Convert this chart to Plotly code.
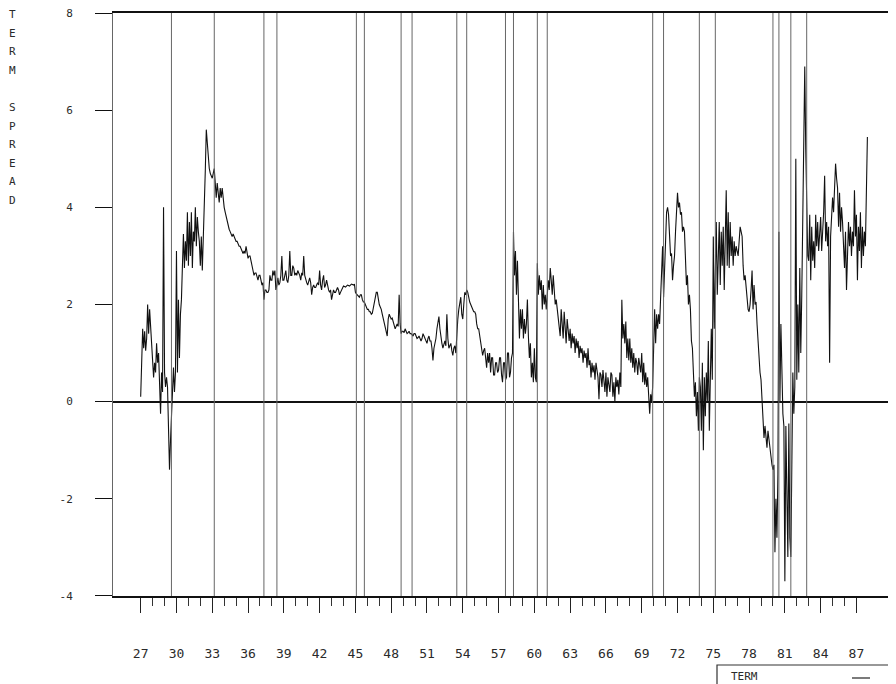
import plotly.graph_objects as go

# ---------------- data ----------------
start_year = 1927.0
obs_per_year = 12  # monthly readings

term_spread = [
    0.1, 0.8, 1.5, 1.1, 1.45, 1.05, 1.3, 2.0, 1.4, 1.9, 1.5, 1.0,          # 1927
    0.9, 0.5, 0.8, 0.6, 1.2, 0.8, 1.0, 0.5, -0.25, 0.6, 0.2, 4.0,          # 1928
    0.6, 0.3, 0.5, 0.3, -0.4, -1.4, -0.8, -0.3, 0.0, 0.7, 0.2, 0.6,        # 1929
    3.1, 0.6, 2.1, 0.9, 1.8, 2.1, 2.8, 3.45, 2.75, 3.3, 2.9, 3.9,          # 1930
    2.8, 3.7, 3.0, 3.9, 2.75, 3.5, 3.3, 4.0, 3.2, 3.8, 3.5, 3.3,           # 1931
    2.8, 3.4, 2.7, 3.6, 4.2, 4.75, 5.6, 5.3, 5.0, 4.8, 4.7, 4.65,          # 1932
    4.6, 4.7, 4.8, 4.5, 4.2, 4.5, 4.3, 4.1, 4.4, 4.2, 4.4, 4.1,            # 1933
    4.0, 3.9, 3.8, 3.7, 3.6, 3.55, 3.5, 3.45, 3.4, 3.45, 3.4, 3.35,        # 1934
    3.3, 3.3, 3.25, 3.2, 3.2, 3.15, 3.1, 3.05, 3.1, 3.05, 3.2, 3.1,        # 1935
    2.95, 3.0, 3.0, 2.9, 2.75, 2.7, 2.6, 2.65, 2.65, 2.55, 2.5, 2.6,       # 1936
    2.6, 2.5, 2.4, 2.45, 2.1, 2.3, 2.3, 2.25, 2.25, 2.3, 2.6, 2.5,         # 1937
    2.5, 2.7, 2.6, 2.7, 2.3, 2.4, 2.55, 2.4, 2.45, 2.6, 3.0, 2.5,          # 1938
    2.5, 2.6, 2.7, 2.5, 2.45, 2.6, 3.1, 2.6, 2.6, 2.8, 2.75, 2.6,          # 1939
    2.65, 2.6, 2.7, 2.65, 2.6, 2.5, 2.65, 2.6, 3.0, 2.6, 2.5, 2.45,        # 1940
    2.4, 2.5, 2.55, 2.45, 2.2, 2.35, 2.4, 2.35, 2.35, 2.4, 2.45, 2.4,      # 1941
    2.7, 2.4, 2.3, 2.5, 2.6, 2.35, 2.4, 2.5, 2.35, 2.3, 2.25, 2.3,         # 1942
    2.1, 2.2, 2.3, 2.25, 2.25, 2.3, 2.35, 2.3, 2.2, 2.25, 2.3, 2.35,       # 1943
    2.38, 2.37, 2.36, 2.38, 2.4, 2.39, 2.38, 2.4, 2.42, 2.41, 2.4, 2.42,   # 1944
    2.25, 2.22, 2.2, 2.18, 2.15, 2.2, 2.2, 2.1, 2.05, 2.05, 2.0, 1.95,     # 1945
    1.9, 1.9, 1.85, 1.85, 1.8, 1.82, 1.95, 2.05, 2.2, 2.25, 2.25, 2.1,     # 1946
    2.0, 1.95, 1.9, 1.8, 1.7, 1.6, 1.55, 1.4, 1.35, 1.7, 1.8, 1.75,        # 1947
    1.7, 1.72, 1.65, 1.6, 1.5, 1.55, 1.6, 1.55, 2.2, 1.6, 1.4, 1.45,       # 1948
    1.45, 1.42, 1.5, 1.45, 1.4, 1.42, 1.45, 1.4, 1.4, 1.38, 1.35, 1.4,     # 1949
    1.4, 1.35, 1.3, 1.32, 1.35, 1.3, 1.25, 1.3, 1.4, 1.35, 1.3, 1.25,      # 1950
    1.2, 1.3, 1.35, 1.25, 1.25, 1.1, 0.85, 1.1, 1.2, 1.3, 1.5, 1.7,        # 1951
    1.75, 1.5, 1.3, 1.2, 1.1, 1.2, 1.25, 1.15, 1.8, 1.3, 1.1, 1.15,        # 1952
    1.2, 1.05, 0.95, 1.1, 1.15, 1.0, 1.5, 1.7, 1.9, 2.0, 2.15, 1.8,        # 1953
    1.7, 2.0, 2.25, 2.2, 2.3, 2.25, 2.1, 2.05, 2.0, 1.95, 1.9, 1.85,       # 1954
    1.85, 1.8, 1.6, 1.5, 1.5, 1.35, 1.2, 1.0, 0.95, 1.05, 1.1, 0.9,        # 1955
    0.7, 1.0, 0.8, 1.0, 0.6, 0.9, 0.9, 0.55, 0.55, 0.8, 0.8, 0.6,          # 1956
    0.65, 0.9, 0.9, 0.55, 0.4, 0.8, 0.8, 0.45, 0.5, 1.0, 1.0, 0.5,         # 1957
    0.6, 0.9, 1.0, 3.5, 2.6, 3.1, 2.2, 2.9, 2.3, 1.3, 1.9, 1.5,            # 1958
    1.9, 1.3, 1.7, 1.4, 1.6, 2.1, 1.35, 0.9, 1.2, 0.5, 0.8, 0.4,           # 1959
    1.1, 0.5, 0.4, 2.85, 2.2, 2.6, 2.3, 2.5, 1.9, 2.4, 2.0, 2.2,           # 1960
    1.9, 2.2, 2.5, 2.3, 2.75, 2.5, 2.2, 2.6, 2.3, 2.0, 2.1, 1.9,           # 1961
    1.8, 1.6, 1.35, 1.9, 1.6, 1.3, 1.85, 1.5, 1.2, 1.7, 1.4, 1.25,         # 1962
    1.5, 1.1, 1.4, 1.2, 1.35, 1.0, 1.3, 1.1, 1.25, 0.9, 1.15, 1.0,         # 1963
    1.1, 0.8, 1.05, 0.9, 1.0, 0.7, 1.1, 0.75, 0.85, 0.5, 0.8, 0.6,         # 1964
    0.75, 0.45, 0.8, 0.6, 0.5, 0.05, 0.6, 0.55, 0.3, 0.65, 0.4, 0.2,       # 1965
    0.6, 0.1, 0.5, 0.35, 0.2, 0.6, 0.55, 0.1, 0.4, 0.0, 0.5, 0.3,          # 1966
    0.45, 0.15, 0.6, 0.3, 2.1, 1.3, 1.6, 1.2, 1.65, 0.9, 1.3, 0.85,        # 1967
    1.3, 0.8, 1.1, 0.7, 1.0, 0.6, 0.9, 0.8, 0.55, 0.9, 0.7, 0.6,           # 1968
    1.0, 0.4, 0.8, 0.35, 0.6, 0.3, 0.5, 0.2, -0.25, 0.15, 0.0, 0.3,        # 1969
    1.0, 1.9, 1.2, 1.8, 1.5, 1.8, 1.6, 2.2, 2.4, 3.2, 2.15, 3.0,           # 1970
    3.3, 3.9, 4.0, 3.85, 3.5, 3.0, 3.05, 2.5, 2.8, 3.0, 3.5, 3.9,          # 1971
    4.3, 4.0, 4.1, 3.85, 3.9, 3.5, 3.6, 3.5, 2.75, 2.4, 2.6, 2.0,          # 1972
    2.2, 1.9, 1.25, 1.1, 0.6, 0.1, 0.4, -0.3, 0.2, -0.6, 0.5, 0.3,         # 1973
    -0.6, 0.8, -1.0, 0.5, -0.3, 0.6, 0.0, 1.25, -0.6, 0.4, 1.5, 0.45,      # 1974
    3.4, 1.5, 2.6, 3.7, 2.2, 3.2, 3.7, 2.4, 3.5, 2.8, 3.6, 2.3,            # 1975
    3.2, 4.35, 2.8, 3.9, 2.75, 3.7, 3.0, 3.4, 2.8, 3.3, 3.0, 3.2,          # 1976
    3.1, 3.0, 3.3, 3.6, 3.5, 3.4, 2.8, 2.5, 2.6, 2.3, 2.1, 1.9,            # 1977
    1.85, 2.0, 2.3, 2.7, 1.9, 2.4, 2.0, 2.05, 1.6, 1.2, 0.9, 0.6,          # 1978
    0.45, 0.0, -0.4, -0.75, -0.5, -0.7, -0.95, -0.6, -0.8, -0.9, -1.2, -1.3,  # 1979
    -1.4, -1.3, -3.1, -2.0, -2.8, -1.5, 3.5, 0.0, 1.6, 0.4, -0.25, -0.5,   # 1980
    -3.7, -0.5, -2.5, -3.2, -0.45, -2.8, -3.2, -1.0, 0.6, -0.25, 0.3, 5.0, # 1981
    0.45, 2.0, 0.6, 2.75, 1.0, 2.2, 4.2, 6.0, 6.9, 5.2, 3.9, 3.0,          # 1982
    2.9, 3.85, 2.5, 3.6, 2.9, 3.3, 2.75, 3.85, 3.2, 3.7, 3.1, 3.5,         # 1983
    3.8, 3.1, 3.5, 3.9, 4.65, 3.3, 3.7, 3.2, 3.6, 0.8, 3.4, 3.9,           # 1984
    4.2, 3.9, 4.5, 4.9, 4.6, 4.4, 3.6, 4.3, 3.5, 4.0, 3.7, 3.0,            # 1985
    2.75, 3.5, 2.3, 3.0, 3.7, 3.2, 3.6, 3.0, 3.5, 3.2, 4.35, 3.4,          # 1986
    3.85, 2.5, 3.6, 3.1, 3.9, 2.75, 3.6, 3.0, 3.5, 3.2, 4.8, 5.45,         # 1987
]

# NBER business-cycle peaks and troughs (decimal years)
cycle_peaks = [1929.58, 1937.33, 1945.08, 1948.83, 1953.5, 1957.58,
               1960.25, 1969.92, 1973.83, 1980.0, 1981.5]
cycle_troughs = [1933.17, 1938.42, 1945.75, 1949.75, 1954.33, 1958.25,
                 1961.08, 1970.83, 1975.17, 1980.5, 1982.83]

x_tick_years = [1927, 1930, 1933, 1936, 1939, 1942, 1945, 1948, 1951, 1954, 1957,
                1960, 1963, 1966, 1969, 1972, 1975, 1978, 1981, 1984, 1987]
x_tick_labels = ["27", "30", "33", "36", "39", "42", "45", "48", "51", "54", "57",
                 "60", "63", "66", "69", "72", "75", "78", "81", "84", "87"]
x_minor_years = [y for y in range(1928, 1987) if y not in x_tick_years]
y_tick_vals = [-4, -2, 0, 2, 4, 6, 8]
y_tick_labels = ["-4", "-2", "0", "2", "4", "6", "8"]

y_title_letters = ["T", "E", "R", "M", "", "S", "P", "R", "E", "A", "D"]
legend_label = "TERM"

# ---------------- figure ----------------
years = [start_year + i / obs_per_year for i in range(len(term_spread))]

FONT = "DejaVu Sans Mono"
INK = "#2a2a2a"

# page geometry (browser pixels); the page body has an 8px margin
PAGE_W, PAGE_H, OFF = 896, 684, 8
L, R, T, B = 113, 892, 13, 596          # plot-area edges on the page
W, H = PAGE_W - OFF, PAGE_H - OFF       # figure size
pw, ph = R - L, B - T


def px_x(p):
    return (p - L) / pw


def px_y(p):
    return (B - p) / ph


fig = go.Figure()
fig.add_trace(go.Scatter(
    x=years, y=term_spread, mode="lines",
    line=dict(color="#111111", width=1.1),
    showlegend=False, hoverinfo="skip",
))

shapes = []
for d in cycle_peaks + cycle_troughs:
    shapes.append(dict(type="line", xref="x", yref="paper", x0=d, x1=d, y0=0, y1=1,
                       line=dict(color="#666666", width=1)))

# right border (light, broken)
shapes.append(dict(type="line", xref="paper", yref="paper", x0=1, x1=1, y0=0, y1=1,
                   line=dict(color="#888888", width=1, dash="dot")))
# legend box (cut at the bottom of the page, as in the reference)
shapes.append(dict(type="rect", xref="paper", yref="paper",
                   x0=px_x(717), x1=px_x(902), y0=px_y(694), y1=px_y(665),
                   line=dict(color="#333333", width=1.2), fillcolor="rgba(0,0,0,0)"))
shapes.append(dict(type="line", xref="paper", yref="paper",
                   x0=px_x(852), x1=px_x(870), y0=px_y(678), y1=px_y(678),
                   line=dict(color="#222222", width=1.2)))

annotations = []
for i, ch in enumerate(y_title_letters):
    if not ch:
        continue
    annotations.append(dict(text=ch, xref="paper", yref="paper",
                            x=px_x(12), y=px_y(15 + i * 18.5),
                            xanchor="center", yanchor="middle", showarrow=False,
                            font=dict(family=FONT, size=11, color=INK)))
annotations.append(dict(text=legend_label, xref="paper", yref="paper",
                        x=px_x(729), y=px_y(676), xanchor="left", yanchor="middle",
                        showarrow=False, font=dict(family=FONT, size=11, color=INK)))

fig.update_layout(
    width=W, height=H,
    margin=dict(l=L - OFF, r=PAGE_W - R, t=T - OFF, b=PAGE_H - B, pad=0,
                autoexpand=False),
    paper_bgcolor="white", plot_bgcolor="white",
    font=dict(family=FONT, size=13, color=INK),
    shapes=shapes, annotations=annotations,
    showlegend=False,
)
fig.update_xaxes(
    range=[1924.68, 1989.98], automargin=False,
    tickmode="array", tickvals=x_tick_years, ticktext=x_tick_labels,
    ticks="outside", ticklen=15, tickwidth=1, tickcolor="#222222",
    ticklabelstandoff=30,
    minor=dict(tickmode="array", tickvals=x_minor_years, ticks="outside",
               ticklen=8, tickwidth=1, tickcolor="#333333"),
    showline=True, mirror=True, linecolor="#111111", linewidth=1.5,
    showgrid=False, zeroline=False,
    tickfont=dict(family=FONT, size=13, color=INK),
)
fig.update_yaxes(
    range=[-4.002, 8.002], automargin=False,
    tickmode="array", tickvals=y_tick_vals, ticktext=y_tick_labels,
    ticks="outside", ticklen=17, tickwidth=1.2, tickcolor="#111111",
    ticklabelstandoff=20, ticklabeloverflow="allow",
    showline=True, linecolor="#666666", linewidth=1,
    showgrid=False,
    zeroline=True, zerolinecolor="#111111", zerolinewidth=1.5,
    tickfont=dict(family=FONT, size=11, color=INK),
)

fig.write_html("out.html")
